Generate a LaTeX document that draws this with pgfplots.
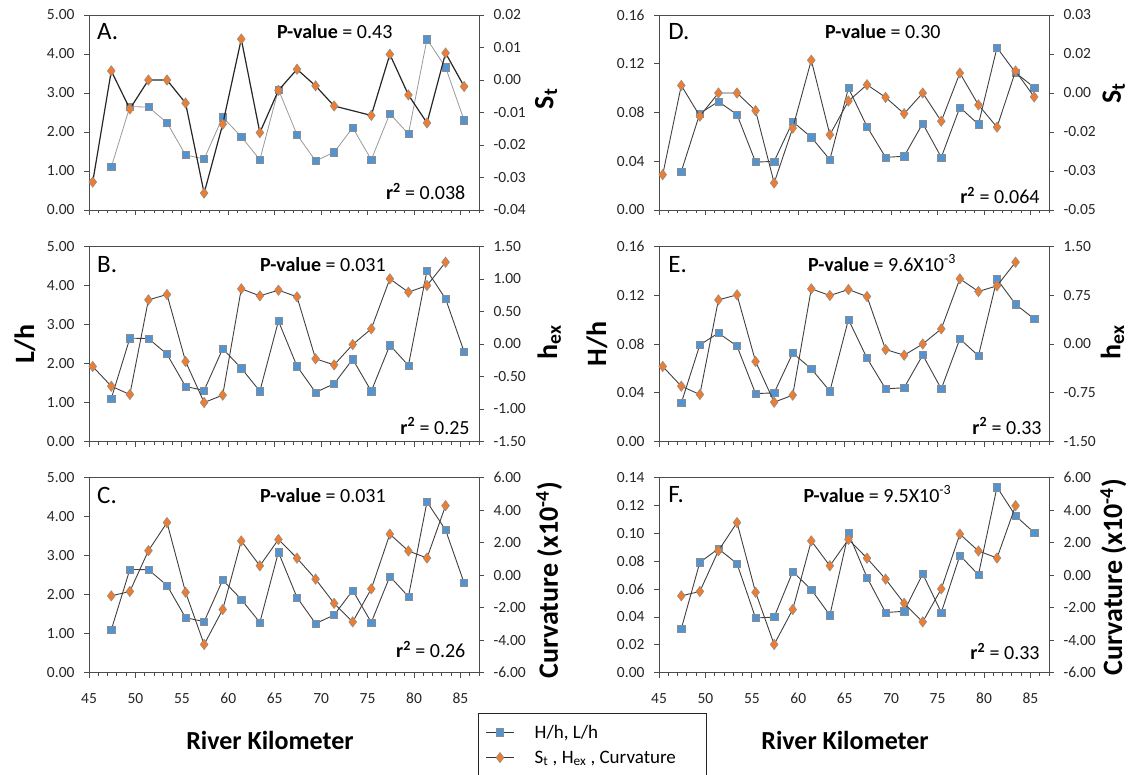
\documentclass[border=0pt]{standalone}
\usepackage{pgfplots}
\pgfplotsset{compat=1.18}
\usepackage{fontspec}
\setmainfont{Carlito}
\definecolor{bluefill}{HTML}{4F95D6}
\definecolor{orangefill}{HTML}{ED7D31}
\newcommand{\tickfont}{\fontsize{15.5}{17}\selectfont}
\newcommand{\pfont}{\fontsize{20}{22}\selectfont}
\newcommand{\letfont}{\fontsize{25}{27}\selectfont}
\newcommand{\labfont}{\fontsize{28}{30}\selectfont\bfseries}

% L/h (same in A, B, C)
\pgfplotstableread{
x y
47.4 1.10
49.4 2.65
51.4 2.64
53.4 2.24
55.4 1.41
57.4 1.31
59.4 2.38
61.4 1.88
63.4 1.29
65.4 3.09
67.4 1.93
69.4 1.26
71.4 1.48
73.4 2.11
75.4 1.29
77.4 2.47
79.4 1.95
81.4 4.38
83.4 3.66
85.4 2.30
}\Lh
% H/h (same in D, E, F)
\pgfplotstableread{
x y
47.4 0.0316
49.4 0.0793
51.4 0.0890
53.4 0.0783
55.4 0.0393
57.4 0.0399
59.4 0.0725
61.4 0.0597
63.4 0.0413
65.4 0.1001
67.4 0.0684
69.4 0.0432
71.4 0.0441
73.4 0.0710
75.4 0.0432
77.4 0.0842
79.4 0.0703
81.4 0.1332
83.4 0.1126
85.4 0.1006
}\Hh
% S_t panel A
\pgfplotstableread{
x y
45.4 -0.0314
47.4 0.0028
49.4 -0.0089
51.4 0.0000
53.4 0.0000
55.4 -0.0071
57.4 -0.0348
59.4 -0.0136
61.4 0.0126
63.4 -0.0162
65.4 -0.0032
67.4 0.0033
69.4 -0.0018
71.4 -0.0080
75.4 -0.0109
77.4 0.0079
79.4 -0.0046
81.4 -0.0132
83.4 0.0083
85.4 -0.0020
}\StA
% S_t panel D
\pgfplotstableread{
x y
45.4 -0.0356
47.4 0.0033
49.4 -0.0101
51.4 0.0000
53.4 0.0000
55.4 -0.0077
57.4 -0.0392
59.4 -0.0153
61.4 0.0143
63.4 -0.0182
65.4 -0.0035
67.4 0.0036
69.4 -0.0019
71.4 -0.0090
73.4 0.0000
75.4 -0.0123
77.4 0.0087
79.4 -0.0052
81.4 -0.0149
83.4 0.0096
85.4 -0.0017
}\StD
% h_ex panel B
\pgfplotstableread{
x y
45.4 -0.346
47.4 -0.649
49.4 -0.777
51.4 0.679
53.4 0.762
55.4 -0.269
57.4 -0.900
59.4 -0.787
61.4 0.849
63.4 0.741
65.4 0.828
67.4 0.726
69.4 -0.228
71.4 -0.321
73.4 -0.008
75.4 0.233
77.4 1.003
79.4 0.797
81.4 0.900
83.4 1.259
}\hexB
% h_ex panel E
\pgfplotstableread{
x y
45.4 -0.346
47.4 -0.649
49.4 -0.777
51.4 0.679
53.4 0.756
55.4 -0.269
57.4 -0.895
59.4 -0.787
61.4 0.849
63.4 0.746
65.4 0.838
67.4 0.731
69.4 -0.085
71.4 -0.172
73.4 0.000
75.4 0.233
77.4 1.003
79.4 0.808
81.4 0.895
83.4 1.259
}\hexE
% Curvature (x1e-4), panels C and F
\pgfplotstableread{
x y
47.4 -1.27
49.4 -1.00
51.4 1.51
53.4 3.24
55.4 -1.05
57.4 -4.26
59.4 -2.11
61.4 2.11
63.4 0.58
65.4 2.20
67.4 1.05
69.4 -0.24
71.4 -1.73
73.4 -2.87
75.4 -0.84
77.4 2.53
79.4 1.49
81.4 1.06
83.4 4.28
}\Curv

\pgfplotsset{
  common/.style={scale only axis, width=390pt, height=195pt,
    xmin=45, xmax=87, xtick={45,50,...,85}, minor xtick={45,46,...,87},
    scaled y ticks=false, scaled x ticks=false,
    tick align=outside, major tick length=5pt, minor tick length=3pt,
    axis line style={black!70, line width=0.8pt},
    every tick/.style={black!70, line width=0.8pt},
    tick label style={font=\tickfont, text=black!85},
    clip=false},
  primary/.style={common, ytick pos=left, xtick pos=bottom, xticklabels={},
    yticklabel style={xshift=-6pt}},
  bottomx/.style={xticklabels={45,50,55,60,65,70,75,80,85}, xticklabel style={yshift=-12pt}},
  secondary/.style={common, axis y line*=right, axis x line=none,
    yticklabel style={xshift=6pt}},
  rlab/.style={ylabel style={at={(rel axis cs:#1)}, anchor=center, rotate=0, font=\labfont}},
  bser/.style={color=black!75, line width=0.9pt, mark=square*, mark size=3.6pt,
    mark options={fill=bluefill, draw=black!45, line width=0.5pt}},
  oser/.style={color=black!75, line width=0.9pt, mark=diamond*, mark size=5.2pt,
    mark options={fill=orangefill, draw=black!45, line width=0.5pt}},
}

\begin{document}
\begin{tikzpicture}
\useasboundingbox (0,0) rectangle (1132pt,-774pt);

% ---------------- Panel A
\begin{axis}[primary, at={(89pt,-15pt)}, anchor=north west,
  ymin=0, ymax=5, ytick={0,1,2,3,4,5}, yticklabels={0.00,1.00,2.00,3.00,4.00,5.00}]
\addplot[bser, color=black!40, line width=0.8pt] table {\Lh};
\node[anchor=west, font=\letfont] at (rel axis cs:0.012,0.913) {A.};
\node[font=\pfont] at (rel axis cs:0.63,0.913) {\textbf{P-value} = 0.43};
\node[anchor=east, font=\pfont] at (rel axis cs:0.974,0.095) {\textbf{r\textsuperscript{2}} = 0.038};
\end{axis}
\begin{axis}[secondary, at={(89pt,-15pt)}, anchor=north west,
  ymin=-0.04, ymax=0.02, ytick={-0.04,-0.03,-0.02,-0.01,0,0.01,0.02},
  yticklabels={-0.04,-0.03,-0.02,-0.01,0.00,0.01,0.02},
  ylabel={S\textsubscript{t}}, rlab={1.172,0.57}]
\addplot[oser, color=black!85, line width=1.2pt] table {\StA};
\end{axis}

% ---------------- Panel B
\begin{axis}[primary, at={(89pt,-246.5pt)}, anchor=north west,
  ymin=0, ymax=5, ytick={0,1,2,3,4,5}, yticklabels={0.00,1.00,2.00,3.00,4.00,5.00},
  ylabel={L/h}, ylabel style={at={(rel axis cs:-0.164,0.5)}, anchor=center, font=\labfont}]
\addplot[bser] table {\Lh};
\node[anchor=west, font=\letfont] at (rel axis cs:0.012,0.905) {B.};
\node[font=\pfont] at (rel axis cs:0.60,0.905) {\textbf{P-value} = 0.031};
\node[anchor=east, font=\pfont] at (rel axis cs:0.985,0.08) {\textbf{r\textsuperscript{2}} = 0.25};
\end{axis}
\begin{axis}[secondary, at={(89pt,-246.5pt)}, anchor=north west,
  ymin=-1.5, ymax=1.5, ytick={-1.5,-1,-0.5,0,0.5,1,1.5},
  yticklabels={-1.50,-1.00,-0.50,0.00,0.50,1.00,1.50},
  ylabel={h\textsubscript{ex}}, rlab={1.18,0.51}]
\addplot[oser] table {\hexB};
\end{axis}

% ---------------- Panel C
\begin{axis}[primary, bottomx, at={(89pt,-477.7pt)}, anchor=north west,
  ymin=0, ymax=5, ytick={0,1,2,3,4,5}, yticklabels={0.00,1.00,2.00,3.00,4.00,5.00},
  xlabel={River Kilometer}, xlabel style={at={(rel axis cs:0.464,-0.348)}, anchor=center, font=\fontsize{26}{28}\selectfont\bfseries}]
\addplot[bser] table {\Lh};
\node[anchor=west, font=\letfont] at (rel axis cs:0.012,0.911) {C.};
\node[font=\pfont] at (rel axis cs:0.60,0.911) {\textbf{P-value} = 0.031};
\node[anchor=east, font=\pfont] at (rel axis cs:0.974,0.12) {\textbf{r\textsuperscript{2}} = 0.26};
\end{axis}
\begin{axis}[secondary, at={(89pt,-477.7pt)}, anchor=north west,
  ymin=-6, ymax=6, ytick={-6,-4,-2,0,2,4,6},
  yticklabels={-6.00,-4.00,-2.00,0.00,2.00,4.00,6.00},
  ylabel={Curvature (x10\textsuperscript{-4})}, rlab={1.18,0.474},
  legend style={at={(rel axis cs:0.997,-0.209)}, anchor=north west, draw=black!85,
    line width=1pt, fill=white, font=\fontsize{19}{21}\selectfont,
    inner xsep=7pt, inner ysep=9pt, row sep=7pt, column sep=18pt},
  legend cell align=left,
  legend image code/.code={\draw[mark repeat=2,mark phase=2,#1] plot coordinates {(0pt,0pt) (14pt,0pt) (28pt,0pt)};}]
\addlegendimage{bser, color=black!80, line width=1.4pt}
\addlegendentry{H/h, L/h}
\addlegendimage{oser, color=black!80, line width=1.4pt}
\addlegendentry{S\textsubscript{t} , H\textsubscript{ex} , Curvature\hspace*{22pt}}
\addplot[oser, forget plot] table {\Curv};
\end{axis}

% ---------------- Panel D
\begin{axis}[primary, at={(659pt,-15pt)}, anchor=north west,
  ymin=0, ymax=0.16, ytick={0,0.04,0.08,0.12,0.16}, yticklabels={0.00,0.04,0.08,0.12,0.16}]
\addplot[bser] table {\Hh};
\node[anchor=west, font=\letfont] at (rel axis cs:0.015,0.913) {D.};
\node[font=\pfont] at (rel axis cs:0.574,0.913) {\textbf{P-value} = 0.30};
\node[anchor=east, font=\pfont] at (rel axis cs:0.985,0.074) {\textbf{r\textsuperscript{2}} = 0.064};
\end{axis}
\begin{axis}[secondary, at={(659pt,-15pt)}, anchor=north west,
  ymin=-0.051, ymax=0.034, ytick={-0.051,-0.034,-0.017,0,0.017,0.034},
  yticklabels={-0.05,-0.03,-0.02,0.00,0.02,0.03},
  ylabel={S\textsubscript{t}}, rlab={1.166,0.60}]
\addplot[oser] table {\StD};
\end{axis}

% ---------------- Panel E
\begin{axis}[primary, at={(659pt,-246.5pt)}, anchor=north west,
  ymin=0, ymax=0.16, ytick={0,0.04,0.08,0.12,0.16}, yticklabels={0.00,0.04,0.08,0.12,0.16},
  ylabel={H/h}, ylabel style={at={(rel axis cs:-0.159,0.5)}, anchor=center, font=\labfont}]
\addplot[bser] table {\Hh};
\node[anchor=west, font=\letfont] at (rel axis cs:0.015,0.905) {E.};
\node[font=\pfont] at (rel axis cs:0.572,0.915) {\textbf{P-value} = 9.6X10\textsuperscript{-3}};
\node[anchor=east, font=\pfont] at (rel axis cs:0.99,0.08) {\textbf{r\textsuperscript{2}} = 0.33};
\end{axis}
\begin{axis}[secondary, at={(659pt,-246.5pt)}, anchor=north west,
  ymin=-1.5, ymax=1.5, ytick={-1.5,-0.75,0,0.75,1.5},
  yticklabels={-1.50,-0.75,0.00,0.75,1.50},
  ylabel={h\textsubscript{ex}}, rlab={1.163,0.51}]
\addplot[oser] table {\hexE};
\end{axis}

% ---------------- Panel F
\begin{axis}[primary, bottomx, at={(659pt,-477.7pt)}, anchor=north west,
  ymin=0, ymax=0.14, ytick={0,0.02,0.04,0.06,0.08,0.10,0.12,0.14},
  yticklabels={0.00,0.02,0.04,0.06,0.08,0.10,0.12,0.14},
  xlabel={River Kilometer}, xlabel style={at={(rel axis cs:0.477,-0.348)}, anchor=center, font=\fontsize{26}{28}\selectfont\bfseries}]
\addplot[bser] table {\Hh};
\node[anchor=west, font=\letfont] at (rel axis cs:0.015,0.911) {F.};
\node[font=\pfont] at (rel axis cs:0.56,0.916) {\textbf{P-value} = 9.5X10\textsuperscript{-3}};
\node[anchor=east, font=\pfont] at (rel axis cs:0.985,0.109) {\textbf{r\textsuperscript{2}} = 0.33};
\end{axis}
\begin{axis}[secondary, at={(659pt,-477.7pt)}, anchor=north west,
  ymin=-6, ymax=6, ytick={-6,-4,-2,0,2,4,6},
  yticklabels={-6.00,-4.00,-2.00,0.00,2.00,4.00,6.00},
  ylabel={Curvature (x10\textsuperscript{-4})}, rlab={1.165,0.49}]
\addplot[oser] table {\Curv};
\end{axis}
\end{tikzpicture}
\end{document}
